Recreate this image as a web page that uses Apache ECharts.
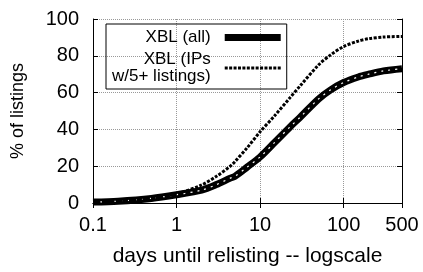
<!DOCTYPE html>
<html>
<head>
<meta charset="utf-8">
<script src="https://cdn.jsdelivr.net/npm/echarts@6/dist/echarts.min.js"></script>
<style>
  html, body { margin: 0; padding: 0; background: #fff; }
  #chart { width: 423px; height: 272px; }
</style>
</head>
<body>
<div id="chart"></div>
<script>
// days until relisting (x, log scale)
var days = [0.1, 0.2, 0.5, 1, 2, 3, 4.4, 5, 7, 10, 15, 23, 30, 50, 70, 100, 150, 200, 300, 500];
// % of listings
var xblAll = [0.5, 1, 2.5, 4.5, 7, 10, 13.5, 14.5, 19.5, 25, 33, 41.5, 46.5, 56.5, 61.5, 65.5, 68.5, 70, 71.8, 73];
var xblIps = [0.5, 1, 2.5, 5, 9.8, 14.5, 20, 22.5, 30, 38.7, 47.5, 57.4, 63.5, 75, 80.5, 85, 88, 89.3, 90.2, 90.5];
var xTicks = [0.1, 1, 10, 100, 500];

var nameAll = "XBL (all)";
var nameIps = "XBL (IPs\nw/5+ listings)";

function pairs(ys) {
  return days.map(function (d, i) { return [d, ys[i]]; });
}

// legend samples: a solid bar and a row of small squares
var dotIcon = "path://";
for (var x = 0; x + 3 <= 56; x += 4.4) {
  dotIcon += "M" + x + ",0h3v3h-3z";
}

var font = "Liberation Sans, Arial, sans-serif";
var gridLine = { show: true, lineStyle: { color: "#999", type: [1, 1], width: 1 } };

var myChart = echarts.init(document.getElementById("chart"));
var option = {
  animation: false,
  textStyle: { fontFamily: font, color: "#000" },
  grid: { left: 93, top: 19, right: 21, bottom: 67 },
  legend: {
    data: [
      { name: nameAll, icon: "path://M0,0h56v7h-56z", itemStyle: { color: "#000" } },
      { name: nameIps, icon: dotIcon, itemStyle: { color: "#000" } }
    ],
    orient: "vertical",
    align: "right",
    left: 106,
    top: 24,
    padding: [5, 6, 4, 6],
    itemGap: 5,
    itemWidth: 56,
    itemHeight: 14,
    symbolKeepAspect: true,
    borderColor: "#000",
    borderWidth: 1,
    textStyle: { fontSize: 17, lineHeight: 17, fontFamily: font, color: "#000", padding: [0, 9, 0, 0] }
  },
  xAxis: [
    {
      type: "log",
      logBase: 10,
      min: 0.1,
      max: 500,
      name: "days until relisting -- logscale",
      nameLocation: "middle",
      nameGap: 43,
      nameTextStyle: { fontSize: 21, fontFamily: font, color: "#000" },
      axisLine: { show: true, lineStyle: { color: "#000", width: 1 } },
      axisTick: { show: true, inside: true, length: 5, lineStyle: { color: "#000" }, customValues: xTicks },
      axisLabel: {
        fontSize: 20, color: "#000", margin: 12, customValues: xTicks,
        formatter: function (v) { return String(+(+v).toPrecision(3)); }
      },
      splitLine: gridLine
    },
    {
      type: "log",
      logBase: 10,
      min: 0.1,
      max: 500,
      position: "top",
      axisLine: { show: true, lineStyle: { color: "#000", width: 1 } },
      axisTick: { show: true, inside: true, length: 5, lineStyle: { color: "#000" }, customValues: xTicks },
      axisLabel: { show: false },
      splitLine: { show: false }
    }
  ],
  yAxis: [
    {
      type: "value",
      min: 0,
      max: 100,
      interval: 20,
      name: "% of listings",
      nameLocation: "middle",
      nameGap: 66,
      nameTextStyle: { fontSize: 18, fontFamily: font, color: "#000" },
      axisLine: { show: true, lineStyle: { color: "#000", width: 1 } },
      axisTick: { show: true, inside: true, length: 5, lineStyle: { color: "#000" } },
      axisLabel: { fontSize: 20, color: "#000", margin: 14 },
      splitLine: gridLine
    },
    {
      type: "value",
      min: 0,
      max: 100,
      interval: 20,
      position: "right",
      axisLine: { show: true, lineStyle: { color: "#000", width: 1 } },
      axisTick: { show: true, inside: true, length: 5, lineStyle: { color: "#000" } },
      axisLabel: { show: false },
      splitLine: { show: false }
    }
  ],
  series: [
    {
      name: nameAll,
      type: "line",
      data: pairs(xblAll),
      smooth: 0.3,
      symbol: "none",
      lineStyle: { color: "#000", width: 7 },
      itemStyle: { color: "#000" }
    },
    {
      // white specks running inside the thick band
      name: "allInner",
      type: "line",
      data: pairs(xblAll),
      smooth: 0.3,
      symbol: "none",
      silent: true,
      lineStyle: { color: "#fff", width: 1.2, type: [2, 5] }
    },
    {
      name: nameIps,
      type: "line",
      data: pairs(xblIps),
      smooth: 0.3,
      symbol: "none",
      lineStyle: { color: "#000", width: 3, type: [3, 1.5] },
      itemStyle: { color: "#000" }
    }
  ]
};
myChart.setOption(option);
</script>
</body>
</html>
